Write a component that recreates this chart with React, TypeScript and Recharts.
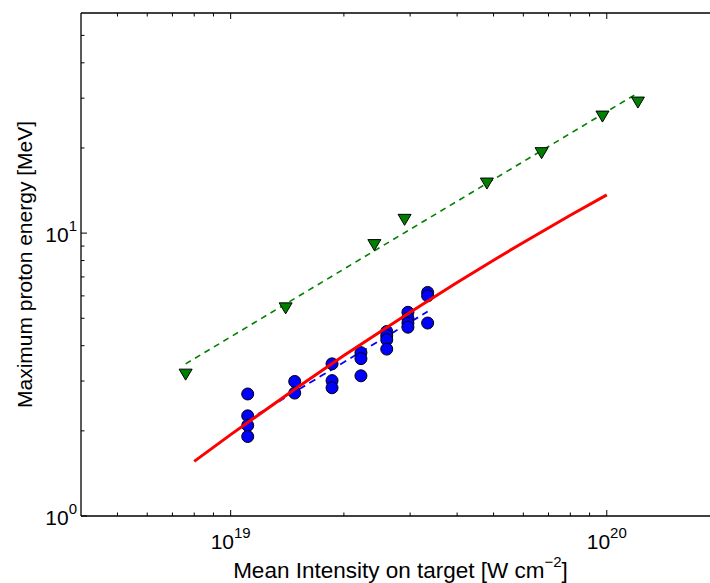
import { ScatterChart, Scatter, XAxis, YAxis, ReferenceLine } from "recharts";

// blue circles: measured cut-off energies
const shotIntensity = [
  1.11e19, 1.11e19, 1.11e19, 1.11e19,
  1.48e19, 1.48e19,
  1.86e19, 1.86e19, 1.86e19,
  2.22e19, 2.22e19, 2.22e19,
  2.6e19, 2.6e19, 2.6e19, 2.6e19,
  2.96e19, 2.96e19, 2.96e19, 2.96e19,
  3.34e19, 3.34e19, 3.34e19,
];
const shotEnergy = [
  2.7, 2.26, 2.09, 1.91,
  2.99, 2.72,
  3.45, 3.01, 2.84,
  3.78, 3.6, 3.13,
  4.49, 4.34, 4.2, 3.89,
  5.25, 5.0, 4.81, 4.65,
  6.17, 6.0, 4.81,
];
const shotFitIntensity = [1.11e19, 3.34e19];
const shotFitEnergy = [2.18, 5.28];

// green triangles: other dataset
const refIntensity = [7.59e18, 1.4e19, 2.41e19, 2.9e19, 4.8e19, 6.71e19, 9.74e19, 1.21e20];
const refEnergy = [3.16, 5.42, 9.07, 11.14, 14.97, 19.17, 25.82, 28.94];
const refFitIntensity = [7.59e18, 1.21e20];
const refFitEnergy = [3.45, 31.3];

// red solid: model curve
const modelIntensity = [8e18, 1e19, 1.5e19, 2e19, 3e19, 4e19, 5e19, 6e19, 8e19, 1e20];
const modelEnergy = [1.56, 1.94, 2.84, 3.69, 5.25, 6.69, 8.02, 9.27, 11.56, 13.65];

// ticks
const xTicks = [
  5e18, 6e18, 7e18, 8e18, 9e18, 1e19,
  2e19, 3e19, 4e19, 5e19, 6e19, 7e19, 8e19, 9e19, 1e20, 2e20,
];
const yTicks = [1, 2, 3, 4, 5, 6, 7, 8, 9, 10, 20, 30, 40, 50];

const pairs = (xs: number[], ys: number[]) => xs.map((x, i) => ({ x, y: ys[i] }));

const FONT = "'Liberation Sans', Arial, Helvetica, sans-serif";
const PLOT_LEFT = 81;
const PLOT_TOP = 13;
const PLOT_BOTTOM = 516;
const PLOT_RIGHT = 720;

const exponentOf = (v: number) => {
  const e = Math.round(Math.log10(v));
  return Math.abs(Math.log10(v) - e) < 1e-6 ? e : null;
};

function XTick(props: any) {
  const { x, payload } = props;
  const exp = exponentOf(payload.value);
  const len = exp !== null ? 6 : 3.5;
  return (
    <g>
      <line x1={x} x2={x} y1={PLOT_BOTTOM} y2={PLOT_BOTTOM - len} stroke="#000" strokeWidth={1} />
      <line x1={x} x2={x} y1={PLOT_TOP} y2={PLOT_TOP + len} stroke="#000" strokeWidth={1} />
      {exp !== null && (
        <text x={x} y={PLOT_BOTTOM + 33} textAnchor="middle" fontFamily={FONT} fontSize={21} fill="#000">
          10<tspan dy={-11} fontSize={15}>{exp}</tspan>
        </text>
      )}
    </g>
  );
}

function YTick(props: any) {
  const { y, payload } = props;
  const exp = exponentOf(payload.value);
  const len = exp !== null ? 6 : 3.5;
  return (
    <g>
      <line x1={PLOT_LEFT} x2={PLOT_LEFT + len} y1={y} y2={y} stroke="#000" strokeWidth={1} />
      <line x1={PLOT_RIGHT} x2={PLOT_RIGHT - len} y1={y} y2={y} stroke="#000" strokeWidth={1} />
      {exp !== null && (
        <text x={77} y={y + 9} textAnchor="end" fontFamily={FONT} fontSize={21} fill="#000">
          10<tspan dy={-11} fontSize={15}>{exp}</tspan>
        </text>
      )}
    </g>
  );
}

const Circle = (props: any) => (
  <circle cx={props.cx} cy={props.cy} r={6} fill="#0000ff" stroke="#000" strokeWidth={1} />
);

const Triangle = (props: any) => {
  const { cx, cy } = props;
  return (
    <polygon
      points={`${cx - 6.5},${cy - 5.5} ${cx + 6.5},${cy - 5.5} ${cx},${cy + 5.5}`}
      fill="#008000"
      stroke="#000"
      strokeWidth={1}
    />
  );
};

const NoDot = () => <g />;

export default function App() {
  return (
    <div style={{ position: "absolute", left: 0, top: 0, width: 710, height: 583, overflow: "hidden", background: "#fff" }}>
      <ScatterChart width={720} height={583} margin={{ top: PLOT_TOP, right: 0, bottom: 0, left: 0 }}>
        <XAxis
          type="number"
          dataKey="x"
          scale="log"
          domain={[4e18, 2e20]}
          allowDataOverflow
          ticks={xTicks}
          interval={0}
          tick={XTick}
          tickLine={false}
          height={67}
          axisLine={{ stroke: "#000", strokeWidth: 1.3 }}
        />
        <YAxis
          type="number"
          dataKey="y"
          scale="log"
          domain={[1, 60]}
          allowDataOverflow
          ticks={yTicks}
          interval={0}
          tick={YTick}
          tickLine={false}
          width={81}
          axisLine={{ stroke: "#000", strokeWidth: 1.3 }}
        />
        <ReferenceLine y={60} stroke="#000" strokeWidth={1.3} />
        <ReferenceLine x={2e20} stroke="#000" strokeWidth={1.3} />

        <Scatter
          data={pairs(refFitIntensity, refFitEnergy)}
          line={{ stroke: "#008000", strokeWidth: 1.6, strokeDasharray: "6 5" }}
          shape={NoDot}
          isAnimationActive={false}
        />
        <Scatter data={pairs(refIntensity, refEnergy)} shape={Triangle} isAnimationActive={false} />
        <Scatter
          data={pairs(shotFitIntensity, shotFitEnergy)}
          line={{ stroke: "#0000ff", strokeWidth: 1.8, strokeDasharray: "7 5" }}
          shape={NoDot}
          isAnimationActive={false}
        />
        <Scatter data={pairs(shotIntensity, shotEnergy)} shape={Circle} isAnimationActive={false} />
        <Scatter
          data={pairs(modelIntensity, modelEnergy)}
          line={{ stroke: "#ff0000", strokeWidth: 3 }}
          lineType="joint"
          shape={NoDot}
          isAnimationActive={false}
        />
      </ScatterChart>

      <svg width={710} height={583} style={{ position: "absolute", left: 0, top: 0, pointerEvents: "none" }}>
        <text x={400.5} y={578} textAnchor="middle" fontFamily={FONT} fontSize={22.5} fill="#000">
          Mean Intensity on target [W cm<tspan dy={-11} fontSize={15}>−2</tspan>
          <tspan dy={11}>]</tspan>
        </text>
        <text
          transform="translate(32 264.5) rotate(-90)"
          textAnchor="middle"
          fontFamily={FONT}
          fontSize={21}
          fill="#000"
        >
          Maximum proton energy [MeV]
        </text>
      </svg>
    </div>
  );
}
